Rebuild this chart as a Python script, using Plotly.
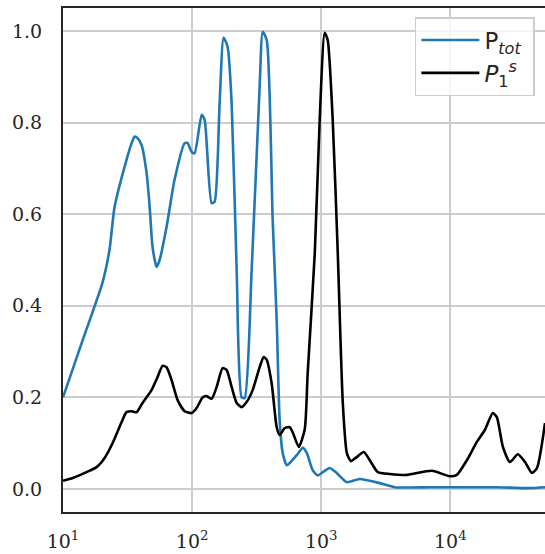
import plotly.graph_objects as go

# P_tot (blue)
ptot_x = [10.0, 14.2, 20.2, 22.9, 25.1, 31.0, 34.0, 35.8, 37.8, 40.6, 44.4, 46.9, 49.4, 53.1, 56.0,
          63.4, 73.1, 87.5, 92.3, 99.1, 104.5, 118.6, 125.0, 141.6, 149.3, 163.3, 175.4, 188.4,
          202.3, 221.3, 242.1, 255.3, 289.1, 333.4, 352.4, 378.4, 420.7, 451.9, 476.4, 503.5,
          540.8, 570.2, 645.7, 719.5, 772.7, 859.0, 939.7, 1028, 1164, 1318, 1578, 1986, 2838,
          3715, 6934, 16940, 22910, 41300, 54080]
ptot_y = [0.20, 0.325, 0.45, 0.522, 0.616, 0.718, 0.755, 0.769, 0.766, 0.751, 0.69, 0.616, 0.528,
          0.485, 0.50, 0.572, 0.675, 0.755, 0.755, 0.736, 0.733, 0.817, 0.806, 0.624, 0.627, 0.843,
          0.985, 0.965, 0.843, 0.478, 0.20, 0.199, 0.478, 0.878, 0.998, 0.98, 0.587, 0.369, 0.15,
          0.078, 0.052, 0.057, 0.074, 0.09, 0.079, 0.041, 0.03, 0.037, 0.046, 0.035, 0.015, 0.022,
          0.013, 0.004, 0.004, 0.004, 0.004, 0.002, 0.004]

# P_1^s (black)
p1s_x = [10.0, 11.9, 15.2, 18.2, 21.0, 24.2, 28.4, 31.0, 34.0, 37.2, 41.3, 48.5, 54.1, 59.0, 63.4,
         69.3, 77.3, 87.5, 99.1, 108.4, 120.5, 129.4, 141.6, 154.9, 172.2, 184.9, 202.3, 221.3,
         242.1, 264.2, 294.4, 333.4, 358.1, 378.4, 413.0, 451.9, 476.4, 521.2, 570.2, 601.2,
         669.9, 744.7, 785.2, 891.3, 972.8, 1064, 1122, 1227, 1343, 1469, 1578, 1694, 1849, 2133,
         2377, 2742, 3396, 4603, 7194, 9908, 11220, 13430, 16030, 18490, 21330, 22910, 25530,
         28910, 33340, 37840, 42850, 46880, 54080]
p1s_y = [0.018, 0.024, 0.037, 0.048, 0.068, 0.10, 0.146, 0.168, 0.17, 0.168, 0.188, 0.216, 0.245,
         0.269, 0.266, 0.238, 0.194, 0.17, 0.166, 0.177, 0.20, 0.203, 0.197, 0.223, 0.264, 0.26,
         0.223, 0.188, 0.179, 0.19, 0.216, 0.266, 0.288, 0.282, 0.231, 0.135, 0.118, 0.133, 0.135,
         0.124, 0.092, 0.13, 0.253, 0.515, 0.806, 0.996, 0.98, 0.806, 0.515, 0.188, 0.079, 0.061,
         0.068, 0.081, 0.063, 0.037, 0.033, 0.031, 0.040, 0.028, 0.031, 0.063, 0.103, 0.129,
         0.166, 0.157, 0.092, 0.059, 0.076, 0.059, 0.035, 0.046, 0.144]

x_ticks = [10, 100, 1000, 10000]
x_tick_labels = ["10<sup>1</sup>", "10<sup>2</sup>", "10<sup>3</sup>", "10<sup>4</sup>"]
y_ticks = [0.0, 0.2, 0.4, 0.6, 0.8, 1.0]
y_tick_labels = ["0.0", "0.2", "0.4", "0.6", "0.8", "1.0"]

fig = go.Figure()
fig.add_trace(go.Scatter(x=ptot_x, y=ptot_y, mode="lines", name="P<sub><i>tot</i></sub>&nbsp;",
                         line=dict(color="#1f77b4", width=2.6, shape="spline", smoothing=0.6)))
fig.add_trace(go.Scatter(x=p1s_x, y=p1s_y, mode="lines", name="<i>P</i><sub>1</sub><sup><i>s</i></sup>&nbsp;",
                         line=dict(color="#000000", width=2.6, shape="spline", smoothing=0.6)))

tick_font = dict(family="DejaVu Serif", size=19, color="#262626")

fig.update_layout(
    width=545, height=554,
    margin=dict(l=63, r=0, t=8, b=42),
    paper_bgcolor="white", plot_bgcolor="white",
    legend=dict(x=0.979, y=0.982, xanchor="right", yanchor="top",
                bgcolor="rgba(255,255,255,0.8)", bordercolor="#cccccc", borderwidth=1.5,
                font=dict(family="DejaVu Sans", size=23, color="#262626"),
                itemwidth=58),
    showlegend=True,
)
fig.update_xaxes(type="log", range=[1, 4.733], tickvals=x_ticks, ticktext=x_tick_labels,
                 automargin=False,
                 showgrid=True, gridcolor="#cccccc", gridwidth=1.5,
                 showline=True, linecolor="#262626", linewidth=2, mirror=True,
                 ticks="outside", ticklen=11, tickcolor="rgba(0,0,0,0)",
                 tickfont=tick_font, zeroline=False)
fig.update_yaxes(range=[-0.05, 1.05], tickvals=y_ticks, ticktext=y_tick_labels,
                 automargin=False,
                 showgrid=True, gridcolor="#cccccc", gridwidth=1.5,
                 showline=True, linecolor="#262626", linewidth=2, mirror=True,
                 ticks="outside", ticklen=15, tickcolor="rgba(0,0,0,0)",
                 tickfont=tick_font, zeroline=False)

# remove the default page margin so the 545x554 figure fills the window exactly
fig.write_html("out.html", config={"displayModeBar": False},
               post_script="document.body.style.margin='0';document.body.style.overflow='hidden';")
